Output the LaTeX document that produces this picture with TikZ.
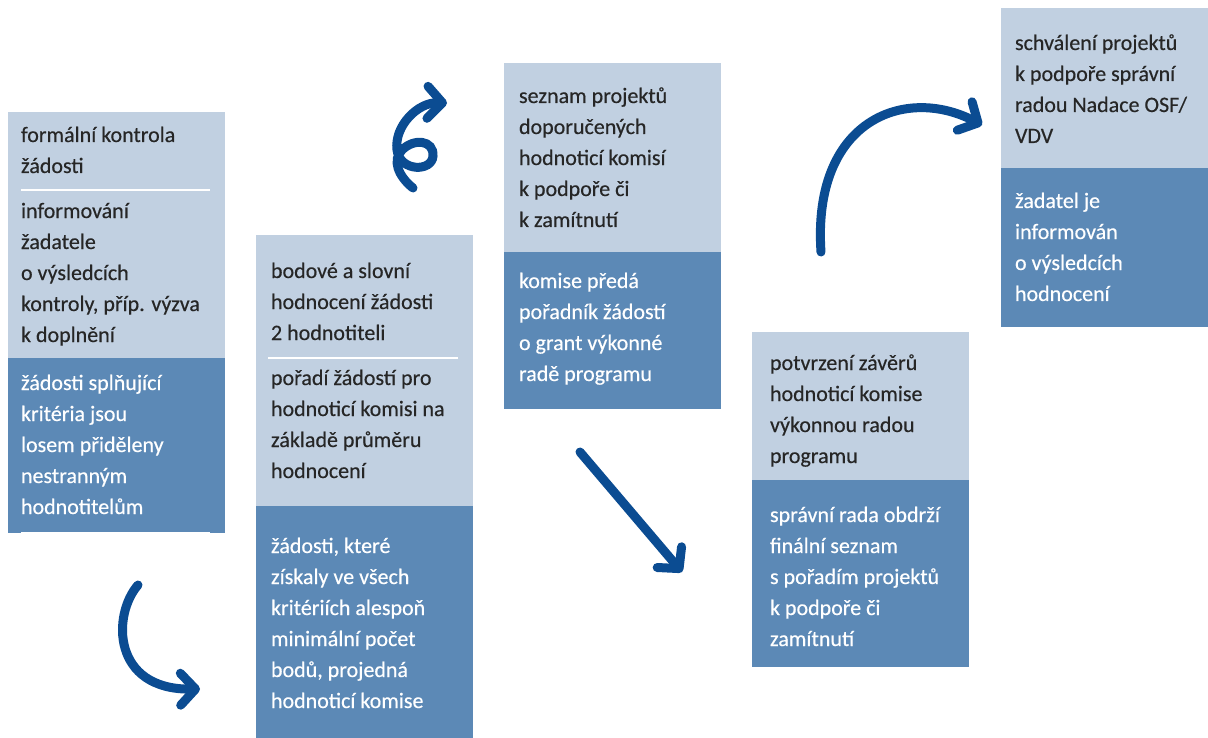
\documentclass[tikz,border=0pt]{standalone}
\usepackage{fontspec}
\setmainfont{Carlito}[FakeBold=0.4]
\usetikzlibrary{arrows.meta}
\definecolor{lightbox}{HTML}{C1D0E1}
\definecolor{darkbox}{HTML}{5C89B6}
\definecolor{arrowblue}{HTML}{0B4C92}
\definecolor{txtdark}{HTML}{262626}
\tikzset{
  panel/.style={draw=none, inner sep=0pt, outer sep=0pt, anchor=north west},
  lightpanel/.style={panel, fill=lightbox},
  darkpanel/.style={panel, fill=darkbox},
  txt/.style={anchor=north west, inner sep=0pt, outer sep=0pt, align=left,
    font=\fontsize{22}{31}\selectfont, text=txtdark},
  wtxt/.style={txt, text=white},
  sepline/.style={white, line width=2pt},
  flow/.style={arrowblue, line width=9pt, line cap=round,
    -{Straight Barb[length=15pt,width=32pt,round]}}
}
\newcommand{\fl}{\rule{0pt}{20pt}}
\begin{document}
\begin{tikzpicture}[x=1pt,y=-1pt]
\useasboundingbox (0,0) rectangle (1208,738);

% box 1
\node[lightpanel, minimum width=217pt, minimum height=246pt] (b1l) at (8,112) {};
\node[darkpanel, minimum width=217pt, minimum height=175pt] (b1d) at (b1l.south west) {};
\draw[sepline] (21,190) -- (210,190);
\draw[white, line width=3pt] (21,533) -- (210,533);
\node[txt] (t1a) at (21,122) {\fl formální kontrola\\žádosti};
\node[txt] (t1b) at (21,198) {\fl informování\\žadatele\\o výsledcích\\kontroly, příp. výzva\\k doplnění};
\node[wtxt] (t1c) at (21,370) {\fl žádosti splňující\\kritéria jsou\\losem přiděleny\\nestranným\\hodnotitelům};

% box 2
\node[lightpanel, minimum width=217pt, minimum height=271pt] (b2l) at (256,235) {};
\node[darkpanel, minimum width=217pt, minimum height=232pt] (b2d) at (b2l.south west) {};
\draw[sepline] (268,358) -- (458,358);
\node[txt] (t2a) at (271,258) {\fl bodové a slovní\\hodnocení žádosti\\2 hodnotiteli};
\node[txt] (t2b) at (271,365) {\fl pořadí žádostí pro\\hodnoticí komisi na\\základě průměru\\hodnocení};
\node[wtxt] (t2c) at (271,533) {\fl žádosti, které\\získaly ve všech\\kritériích alespoň\\minimální počet\\bodů, projedná\\hodnoticí komise};

% box 3
\node[lightpanel, minimum width=217pt, minimum height=189pt] (b3l) at (504,63) {};
\node[darkpanel, minimum width=217pt, minimum height=157pt] (b3d) at (b3l.south west) {};
\node[txt] (t3a) at (519,83) {\fl seznam projektů\\doporučených\\hodnoticí komisí\\k podpoře či\\k zamítnutí};
\node[wtxt] (t3b) at (519,268) {\fl komise předá\\pořadník žádostí\\o grant výkonné\\radě programu};

% box 4
\node[lightpanel, minimum width=217pt, minimum height=148pt] (b4l) at (752,332) {};
\node[darkpanel, minimum width=217pt, minimum height=187pt] (b4d) at (b4l.south west) {};
\node[txt] (t4a) at (770,350) {\fl potvrzení závěrů\\hodnoticí komise\\výkonnou radou\\programu};
\node[wtxt] (t4b) at (770,502) {\fl správní rada obdrží\\finální seznam\\s pořadím projektů\\k podpoře či\\zamítnutí};

% box 5
\node[lightpanel, minimum width=207pt, minimum height=160pt] (b5l) at (1001,8) {};
\node[darkpanel, minimum width=207pt, minimum height=159pt] (b5d) at (b5l.south west) {};
\node[txt] (t5a) at (1015,30) {\fl schválení projektů\\k podpoře správní\\radou Nadace OSF/\\VDV};
\node[wtxt] (t5b) at (1015,188) {\fl žadatel je\\informován\\o výsledcích\\hodnocení};

% arrows
\coordinate (a1s) at (138,585);
\coordinate (a1e) at (200,689);
\draw[flow] (a1s) .. controls (112,615) and (112,690) .. (a1e);

\coordinate (a2s) at (413,188);
\coordinate (a2e) at (447,103);
\draw[flow] (a2s) .. controls (398,176) and (392,160) .. (402,150)
  .. controls (414,138) and (434,140) .. (433,156)
  .. controls (432,172) and (400,172) .. (397,150)
  .. controls (394,126) and (418,102) .. (a2e);

\coordinate (a3s) at (580,452);
\coordinate (a3e) at (682,572);
\draw[flow] (a3s) -- (a3e);

\coordinate (a4s) at (821,252);
\coordinate (a4e) at (982,125);
\draw[flow] (a4s) .. controls (812,120) and (905,85) .. (a4e);
\end{tikzpicture}
\end{document}
